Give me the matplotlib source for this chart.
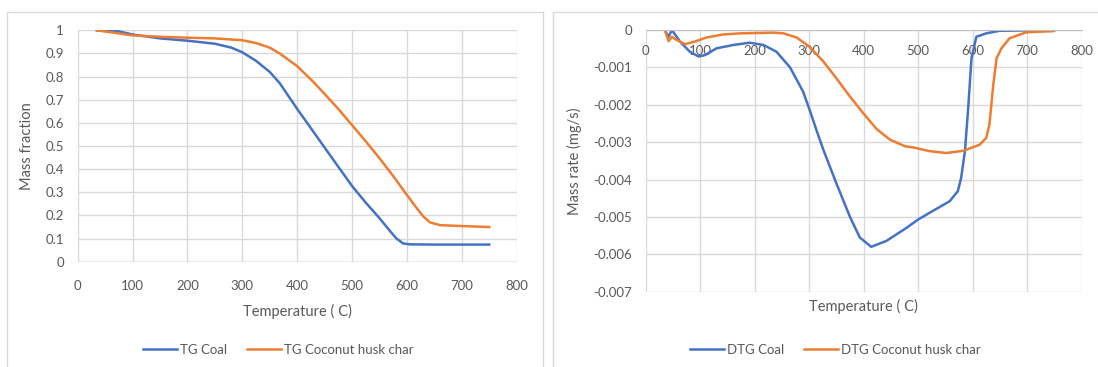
import matplotlib.pyplot as plt
from matplotlib.patches import Rectangle

plt.rcParams['font.family'] = ['Lato', 'DejaVu Sans']

BLUE = '#4472C4'
ORANGE = '#ED7D31'
GRID = '#D9D9D9'
TXT = '#595959'

# TG curves (mass fraction vs temperature)
tg_coal_t = [35, 50, 70, 100, 150, 200, 250, 280, 300, 325, 350, 368, 400, 425, 447,
             475, 500, 525, 550, 570, 581, 593, 605, 650, 750]
tg_coal_m = [1.0, 1.0, 0.998, 0.982, 0.965, 0.955, 0.942, 0.925, 0.905, 0.868, 0.82,
             0.772, 0.66, 0.577, 0.503, 0.41, 0.327, 0.255, 0.188, 0.13, 0.1, 0.079,
             0.075, 0.074, 0.074]
tg_husk_t = [35, 100, 150, 200, 250, 300, 325, 350, 368, 400, 429, 450, 475, 500, 525,
             550, 575, 600, 615, 630, 642, 660, 700, 750]
tg_husk_m = [1.0, 0.978, 0.972, 0.968, 0.965, 0.957, 0.945, 0.925, 0.9, 0.845, 0.778,
             0.725, 0.66, 0.59, 0.52, 0.447, 0.37, 0.288, 0.24, 0.195, 0.17, 0.158,
             0.154, 0.15]

# DTG curves (mass rate vs temperature)
dtg_coal_t = [35, 42, 48, 63, 81, 97, 109, 130, 161, 191, 216, 240, 265, 289, 300,
              314, 326, 350, 375, 393, 414, 442, 479, 500, 527, 558, 573, 579, 586,
              592, 598, 607, 625, 650, 700, 750]
dtg_coal_r = [0.0, -0.00018, 0.0, -0.00031, -0.00058, -0.00071, -0.00067, -0.00049,
              -0.0004, -0.00034, -0.0004, -0.00058, -0.001, -0.00165, -0.0021,
              -0.0027, -0.0032, -0.0041, -0.005, -0.00555, -0.0058, -0.00564,
              -0.00529, -0.00507, -0.00484, -0.00458, -0.00431, -0.00396, -0.00324,
              -0.00209, -0.00076, -0.00018, -0.00009, -0.00002, -0.00001, -0.00001]
dtg_husk_t = [35, 42, 48, 57, 72, 90, 112, 142, 173, 234, 253, 277, 300, 326, 350,
              375, 399, 424, 448, 476, 491, 521, 552, 583, 613, 625, 631, 638, 644,
              653, 668, 699, 748]
dtg_husk_r = [0.0, -0.0003, -0.00018, -0.00027, -0.00038, -0.00031, -0.0002, -0.00012,
              -0.00009, -0.00007, -0.00009, -0.0002, -0.00044, -0.00084, -0.00129,
              -0.00178, -0.00222, -0.00265, -0.00293, -0.00311, -0.00314, -0.00324,
              -0.00329, -0.00323, -0.00307, -0.00289, -0.00253, -0.00147, -0.00076,
              -0.00049, -0.00022, -0.00006, -0.00003]

x_ticks = [0, 100, 200, 300, 400, 500, 600, 700, 800]
tg_ticks = [0, 0.1, 0.2, 0.3, 0.4, 0.5, 0.6, 0.7, 0.8, 0.9, 1]
tg_labels = ['0', '0.1', '0.2', '0.3', '0.4', '0.5', '0.6', '0.7', '0.8', '0.9', '1']
dtg_ticks = [0, -0.001, -0.002, -0.003, -0.004, -0.005, -0.006, -0.007]
dtg_labels = ['0', '-0.001', '-0.002', '-0.003', '-0.004', '-0.005', '-0.006', '-0.007']

fig = plt.figure(figsize=(10.98, 3.67), dpi=100)
W, H = 1098, 367

# chart area borders
fig.patches.append(Rectangle((6.7 / W, -0.1), 536 / W, 1.1 - 11.7 / H, transform=fig.transFigure,
                             fill=False, edgecolor=GRID, lw=1))
fig.patches.append(Rectangle((553.3 / W, -0.1), 0.6, 1.1 - 11.7 / H, transform=fig.transFigure,
                             fill=False, edgecolor=GRID, lw=1))


def style(ax):
    for s in ax.spines.values():
        s.set_visible(False)
    ax.grid(True, color=GRID, lw=1)
    ax.set_axisbelow(True)
    ax.tick_params(length=0, colors=TXT, labelsize=9.5)


# left: TG
ax1 = fig.add_axes([77.7 / W, 1 - 261.7 / H, 439 / W, 231.4 / H])
style(ax1)
ax1.plot(tg_coal_t, tg_coal_m, color=BLUE, lw=1.8, label='TG Coal')
ax1.plot(tg_husk_t, tg_husk_m, color=ORANGE, lw=1.8, label='TG Coconut husk char')
ax1.set_xlim(0, 800)
ax1.set_ylim(0, 1)
ax1.set_xticks(x_ticks)
ax1.set_yticks(tg_ticks)
ax1.set_yticklabels(tg_labels)
ax1.tick_params(axis='x', pad=13)
ax1.tick_params(axis='y', pad=10)
ax1.set_xlabel('Temperature ( C)', color=TXT, fontsize=10.5, labelpad=9)
ax1.set_ylabel('Mass fraction', color=TXT, fontsize=10.5, labelpad=8)
ax1.axhline(0, color='#BFBFBF', lw=1)
ax1.legend(loc='center', bbox_to_anchor=(278 / W, 1 - 350 / H), bbox_transform=fig.transFigure,
           ncol=2, frameon=False, fontsize=9.5, labelcolor=TXT, handlelength=2.6,
           columnspacing=1.5, handletextpad=0.2)

# right: DTG
ax2 = fig.add_axes([645.7 / W, 1 - 291.7 / H, 435.8 / W, 261.7 / H])
style(ax2)
ax2.plot(dtg_coal_t, dtg_coal_r, color=BLUE, lw=1.8, label='DTG Coal')
ax2.plot(dtg_husk_t, dtg_husk_r, color=ORANGE, lw=1.8, label='DTG Coconut husk char')
ax2.set_xlim(0, 800)
ax2.set_ylim(-0.007, 0)
ax2.set_xticks(x_ticks)
ax2.set_yticks(dtg_ticks)
ax2.set_yticklabels(dtg_labels)
ax2.spines['bottom'].set_position(('data', 0))
ax2.spines['bottom'].set_visible(True)
ax2.spines['bottom'].set_color('#BFBFBF')
ax2.tick_params(axis='x', pad=11)
ax2.tick_params(axis='y', pad=10)
ax2.set_ylabel('Mass rate (mg/s)', color=TXT, fontsize=10.5, labelpad=8)
fig.text(ax2.get_position().x0 + ax2.get_position().width / 2, 1 - 306 / H,
         'Temperature ( C)', color=TXT, fontsize=10.5, ha='center', va='center')
ax2.legend(loc='center', bbox_to_anchor=(835 / W, 1 - 350 / H), bbox_transform=fig.transFigure,
           ncol=2, frameon=False, fontsize=9.5, labelcolor=TXT, handlelength=2.6,
           columnspacing=1.5, handletextpad=0.2)

fig.savefig('out.png', dpi=100)
